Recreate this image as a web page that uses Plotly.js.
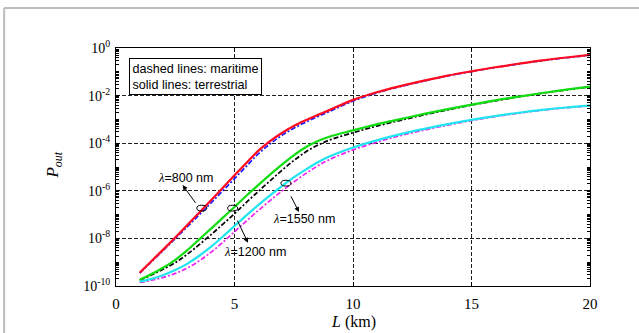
<!DOCTYPE html>
<html>
<head>
<meta charset="utf-8">
<script src="https://cdn.plot.ly/plotly-3.0.1.min.js"></script>
<style>
  html, body { margin: 0; padding: 0; background: #ffffff; }
  #chart { width: 639px; height: 333px; }
</style>
</head>
<body>
<div id="chart"></div>
<script>
// Link distance L (km)
const distanceKm = [1, 1.5, 2, 2.5, 3, 3.5, 4, 4.5, 5, 5.5, 6, 6.5, 7, 7.5, 8, 8.5, 9, 10, 11, 12, 13, 14, 15, 16, 17, 18, 19, 20];

// Outage probability as decimal exponents (P_out = 10^value)
// solid lines: terrestrial links, dashed lines: maritime links
const log10Pout800Terrestrial  = [-9.44, -8.95, -8.46, -7.96, -7.45, -6.93, -6.41, -5.88, -5.35, -4.83, -4.32, -3.91, -3.57, -3.28, -3.04, -2.82, -2.61, -2.18, -1.86, -1.60, -1.37, -1.16, -0.98, -0.81, -0.66, -0.52, -0.40, -0.29];
const log10Pout800Maritime     = [-9.46, -8.98, -8.50, -8.01, -7.52, -7.02, -6.52, -6.01, -5.49, -4.97, -4.45, -4.03, -3.67, -3.37, -3.12, -2.89, -2.67, -2.23, -1.89, -1.62, -1.39, -1.17, -0.99, -0.82, -0.67, -0.53, -0.41, -0.30];
const log10Pout1200Terrestrial = [-9.74, -9.50, -9.22, -8.90, -8.50, -8.05, -7.60, -7.14, -6.68, -6.21, -5.76, -5.32, -4.90, -4.51, -4.17, -3.92, -3.73, -3.46, -3.21, -2.99, -2.77, -2.57, -2.38, -2.20, -2.04, -1.89, -1.75, -1.62];
const log10Pout1200Maritime    = [-9.76, -9.54, -9.29, -9.02, -8.67, -8.27, -7.85, -7.41, -6.96, -6.49, -6.03, -5.58, -5.14, -4.73, -4.37, -4.09, -3.87, -3.56, -3.28, -3.04, -2.81, -2.60, -2.40, -2.22, -2.05, -1.90, -1.76, -1.63];
const log10Pout1550Terrestrial = [-9.82, -9.70, -9.54, -9.33, -9.07, -8.74, -8.36, -7.93, -7.48, -7.03, -6.60, -6.19, -5.80, -5.44, -5.11, -4.81, -4.56, -4.18, -3.88, -3.62, -3.40, -3.20, -3.02, -2.86, -2.72, -2.60, -2.50, -2.42];
const log10Pout1550Maritime    = [-9.85, -9.76, -9.64, -9.47, -9.25, -8.95, -8.59, -8.17, -7.72, -7.27, -6.83, -6.41, -6.01, -5.63, -5.28, -4.96, -4.69, -4.28, -3.96, -3.68, -3.45, -3.24, -3.05, -2.88, -2.74, -2.61, -2.51, -2.43];

// Axis ticks
const xTickVals = [0, 5, 10, 15, 20];
const xTickText = ['0', '5', '10', '15', '20'];
const yTickVals = [1e-10, 1e-8, 1e-6, 1e-4, 1e-2, 1];
const yTickText = ['10<sup>-10</sup>', '10<sup>-8</sup>', '10<sup>-6</sup>', '10<sup>-4</sup>', '10<sup>-2</sup>', '10<sup>0</sup>'];

const yMinorVals = [];
for (let n = -10; n < 0; n++) {
  for (let k = 1; k <= 9; k++) {
    if (k === 1 && n % 2 === 0) continue;
    yMinorVals.push(k * Math.pow(10, n));
  }
}

const serif = 'Liberation Serif, Times New Roman, serif';
const sans = 'Liberation Sans, Arial, sans-serif';
const lg = Math.log10;
const fromExp = arr => arr.map(e => Math.pow(10, e));

function curve(exps, color, dashed) {
  return {
    x: distanceKm, y: fromExp(exps), type: 'scatter', mode: 'lines',
    line: dashed ? { color: color, width: 1.7, dash: '5px,2px,2px,2px', shape: 'spline', smoothing: 1 }
                 : { color: color, width: 2.2, shape: 'spline', smoothing: 1 },
    hoverinfo: 'skip', showlegend: false
  };
}

const traces = [
  curve(log10Pout800Maritime, '#1a1aff', true),
  curve(log10Pout800Terrestrial, '#ff0a1e', false),
  curve(log10Pout1200Maritime, '#000000', true),
  curve(log10Pout1200Terrestrial, '#10dd10', false),
  curve(log10Pout1550Maritime, '#f020f0', true),
  curve(log10Pout1550Terrestrial, '#20e4f0', false)
];

const lam = '<span style="font-family:' + serif + '"><i>λ</i></span>';

function label(text, x, y) {
  return { text: text, x: x, y: lg(y), xref: 'x', yref: 'y', showarrow: false,
           font: { family: sans, size: 12.5, color: '#000' } };
}
function pointer(x, y, ax, ay) {
  return { text: ' ', x: x, y: lg(y), xref: 'x', yref: 'y', ax: ax, ay: ay,
           showarrow: true, arrowhead: 2, arrowsize: 1, arrowwidth: 1, arrowcolor: '#000', standoff: 0 };
}
function ring(x, y) {
  return { type: 'circle', xref: 'x', yref: 'y', xsizemode: 'pixel', ysizemode: 'pixel',
           xanchor: x, yanchor: y, x0: -5, x1: 5, y0: -5.8, y1: 5.8,
           line: { color: '#000', width: 1 }, layer: 'above' };
}

const layout = {
  width: 639, height: 333,
  margin: { l: 116, r: 49, t: 48, b: 47 },
  paper_bgcolor: '#ffffff', plot_bgcolor: '#ffffff',
  showlegend: false,
  xaxis: {
    range: [0, 20], tickvals: xTickVals, ticktext: xTickText,
    ticks: 'inside', ticklen: 4, tickcolor: '#000', mirror: 'ticks',
    showline: true, linecolor: '#000', linewidth: 1,
    showgrid: true, gridcolor: '#222', gridwidth: 1, griddash: '4px,2px',
    zeroline: false, ticklabelstandoff: 4,
    tickfont: { family: serif, size: 15, color: '#000' }
  },
  yaxis: {
    type: 'log', range: [-10, 0], tickvals: yTickVals, ticktext: yTickText,
    ticks: 'inside', ticklen: 4, tickcolor: '#000', mirror: 'ticks',
    showline: true, linecolor: '#000', linewidth: 1,
    showgrid: true, gridcolor: '#222', gridwidth: 1, griddash: '4px,2px',
    zeroline: false, ticklabelstandoff: 2,
    tickfont: { family: serif, size: 14, color: '#000' },
    minor: { tickvals: yMinorVals, ticks: 'inside', ticklen: 3, tickcolor: '#000', showgrid: false }
  },
  annotations: [
    { text: 'dashed lines: maritime<br>solid lines: terrestrial', xref: 'paper', yref: 'paper',
      x: 0.027, y: 0.957, xanchor: 'left', yanchor: 'top', align: 'left', showarrow: false,
      bordercolor: '#000', borderwidth: 1, borderpad: 2.5, bgcolor: '#fff',
      font: { family: sans, size: 12.6, color: '#000' } },
    label(lam + '=800 nm', 2.95, 3.5e-6),
    label(lam + '=1200 nm', 5.86, 2.7e-9),
    label(lam + '=1550 nm', 7.93, 6.6e-8),
    pointer(2.81, 1.74e-6, 16, 22),
    pointer(5.57, 6.5e-9, -13.5, -28.5),
    pointer(7.72, 1.29e-7, -11, -21.5),
    { text: '<i>P</i><sub><i>out</i></sub>', xref: 'paper', yref: 'paper', x: -0.131, y: 0.51,
      xanchor: 'center', yanchor: 'middle',
      textangle: -90, showarrow: false, font: { family: serif, size: 17, color: '#000' } },
    { text: '<i>L</i> (km)', xref: 'paper', yref: 'paper', x: 0.5, y: -0.153,
      xanchor: 'center', yanchor: 'middle',
      showarrow: false, font: { family: serif, size: 16, color: '#000' } }
  ],
  shapes: [
    ring(3.62, 1.41e-7),
    ring(4.92, 1.41e-7),
    ring(7.17, 1.58e-6),
    { type: 'line', xref: 'paper', yref: 'paper', x0: -0.236, x1: 1.2, y0: 1.168, y1: 1.168,
      line: { color: '#bdbdbd', width: 2 } },
    { type: 'line', xref: 'paper', yref: 'paper', x0: -0.236, x1: -0.236, y0: 1.168, y1: -0.3,
      line: { color: '#bdbdbd', width: 2 } }
  ]
};

Plotly.newPlot('chart', traces, layout, { staticPlot: true, displayModeBar: false });
</script>
</body>
</html>
